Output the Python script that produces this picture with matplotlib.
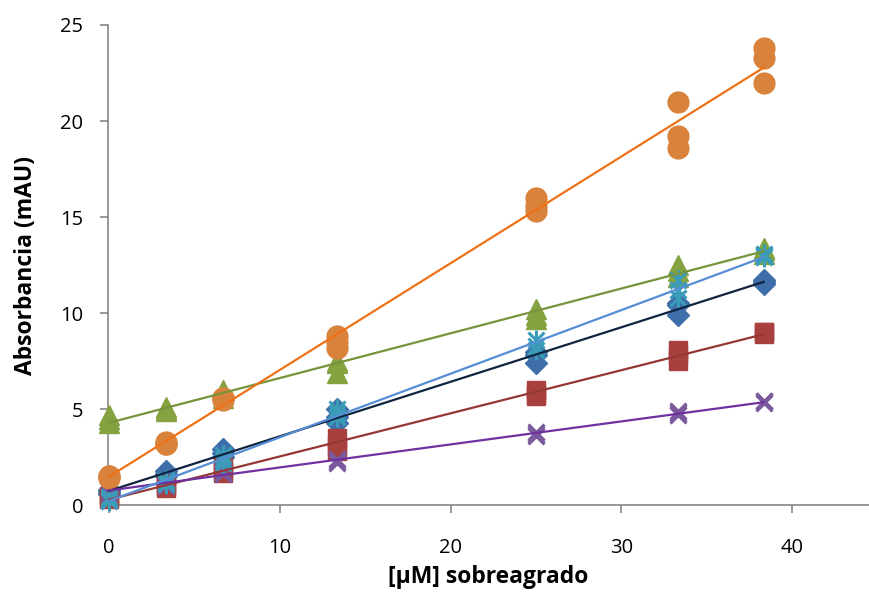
import matplotlib
matplotlib.use("Agg")
import matplotlib.pyplot as plt
import numpy as np

x_levels = [0, 3.33, 6.67, 13.33, 25, 33.33, 38.33]

# triplicate readings per concentration
diamond_y = [[0.8, 0.7, 0.6], [1.8, 1.6, 1.5], [2.9, 2.7, 2.5], [5.0, 4.6, 4.3], [8.0, 7.8, 7.4], [10.5, 10.4, 9.9], [11.7, 11.6, 11.5]]
square_y = [[0.5, 0.4, 0.3], [1.1, 1.0, 0.9], [2.0, 1.8, 1.7], [3.5, 3.1, 2.8], [6.0, 5.8, 5.7], [8.1, 7.8, 7.5], [9.0, 9.0, 8.9]]
triangle_y = [[4.7, 4.5, 4.3], [5.1, 5.0, 4.9], [6.0, 5.8, 5.6], [7.5, 7.4, 6.9], [10.2, 9.9, 9.7], [12.5, 12.2, 11.9], [13.4, 13.3, 13.1]]
cross_y = [[0.9, 0.8, 0.6], [1.2, 1.1, 1.0], [1.8, 1.7, 1.6], [2.4, 2.3, 2.2], [3.8, 3.7, 3.6], [4.9, 4.8, 4.7], [5.4, 5.4, 5.3]]
star_y = [[0.4, 0.3, 0.2], [1.3, 1.2, 1.1], [2.6, 2.4, 2.2], [5.0, 4.8, 4.6], [8.6, 8.3, 8.1], [11.7, 11.2, 10.8], [13.1, 13.0, 12.9]]
circle_y = [[1.5, 1.5, 1.4], [3.3, 3.2, 3.2], [5.6, 5.6, 5.5], [8.8, 8.5, 8.2], [16.0, 15.6, 15.3], [21.0, 19.2, 18.6], [23.8, 23.3, 22.0]]

y_ticks = [0, 5, 10, 15, 20, 25]
x_ticks = [0, 10, 20, 30, 40]

plt.rcParams['font.family'] = ['Open Sans', 'DejaVu Sans']

fig = plt.figure(figsize=(8.69, 5.95), dpi=100)
ax = fig.add_axes([0.1243, 0.151, 0.8757, 0.807])

def flat(vals):
    xs, ys = [], []
    for xv, trip in zip(x_levels, vals):
        for v in trip:
            xs.append(xv)
            ys.append(v)
    return np.array(xs), np.array(ys)

series = [
    (diamond_y, dict(marker='D', ms=11, color='#3F6FAA', mec='#3F6FAA'), '#0F243E'),
    (square_y, dict(marker='s', ms=13, color='#A8403E', mec='#A8403E'), '#953735'),
    (triangle_y, dict(marker='^', ms=14, color='#84A23F', mec='#84A23F'), '#77933C'),
    (cross_y, dict(marker='x', ms=12, mew=2.2, color='#7A5A9C'), '#7030A0'),
    (star_y, None, '#558ED5'),
    (circle_y, dict(marker='o', ms=15, color='#D9823B', mec='#D9823B'), '#EE7215'),
]

for vals, style, lc in series:
    xs, ys = flat(vals)
    if style is None:
        ax.plot(xs, ys, ls='none', marker='x', ms=12, mew=2.2, color='#3A9CB8', zorder=3, clip_on=False)
        ax.plot(xs, ys, ls='none', marker='|', ms=15, mew=2.2, color='#3A9CB8', zorder=3, clip_on=False)
    else:
        ax.plot(xs, ys, ls='none', zorder=3, clip_on=False, **style)

for vals, style, lc in series:
    xs, ys = flat(vals)
    m, b = np.polyfit(xs, ys, 1)
    xl = np.array([x_levels[0], x_levels[-1]])
    ax.plot(xl, m * xl + b, color=lc, lw=1.6, zorder=4, clip_on=False)

ax.set_xlim(-0.05, 44.5)
ax.set_ylim(0, 25)
ax.set_xticks(x_ticks)
ax.set_yticks(y_ticks)
for s in ['top', 'right']:
    ax.spines[s].set_visible(False)
for s in ['left', 'bottom']:
    ax.spines[s].set_color('#868686')
    ax.spines[s].set_linewidth(1.2)
ax.tick_params(axis='both', colors='#868686', labelcolor='black', labelsize=14.5, length=6, width=1.2)
ax.tick_params(axis='x', pad=18)
ax.tick_params(axis='y', pad=12)
ax.set_xlabel('[µM] sobreagrado', fontsize=16.5, fontweight='bold', labelpad=5)
ax.set_ylabel('Absorbancia (mAU)', fontsize=16.5, fontweight='bold', labelpad=16)
for sp in ax.spines.values():
    sp.set_clip_on(False)

fig.savefig('out.png', dpi=100)
